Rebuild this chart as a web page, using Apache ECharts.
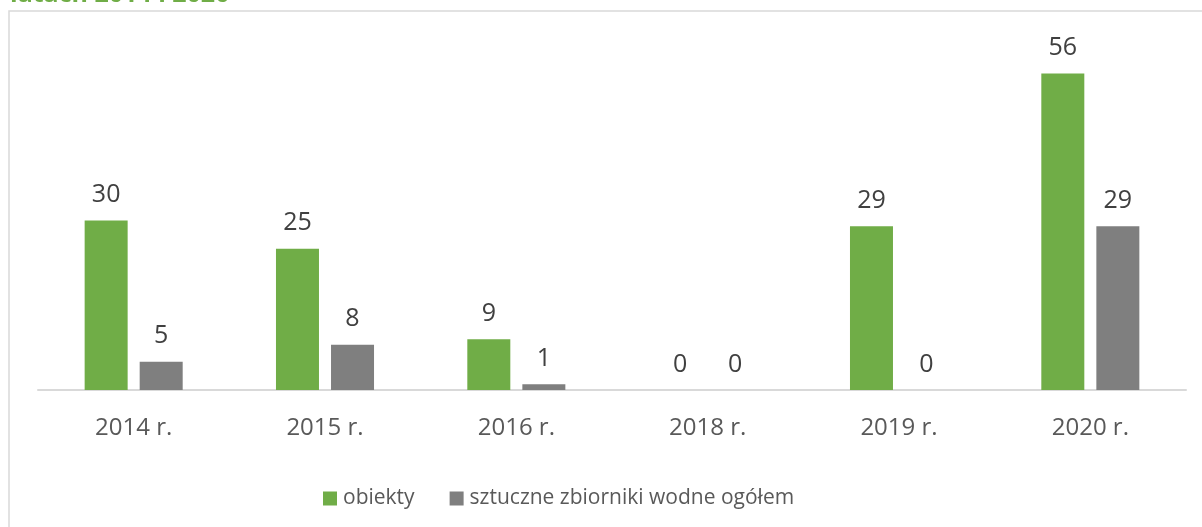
<!DOCTYPE html>
<html>
<head>
<meta charset="utf-8">
<script src="https://cdn.jsdelivr.net/npm/echarts@6/dist/echarts.min.js"></script>
<style>
html, body { margin: 0; padding: 0; background: #fff; }
#chart { width: 1202px; height: 527px; }
</style>
</head>
<body>
<div id="chart"></div>
<script>
// dane
var years = ['2014 r.', '2015 r.', '2016 r.', '2018 r.', '2019 r.', '2020 r.'];
var obiekty = [30, 25, 9, 0, 29, 56];
var zbiorniki = [5, 8, 1, 0, 0, 29];
var seriesNames = ['obiekty', 'sztuczne zbiorniki wodne ogółem'];
var titleText = 'latach 2014 i 2020';

var font = 'Open Sans';

function barLabel() {
	return {
		show : true,
		position : 'top',
		distance : 13,
		color : '#404040',
		fontFamily : font,
		fontSize : 25
	};
}

var chart = echarts.init(document.getElementById('chart'));

var option = {
	animation : false,
	textStyle : { fontFamily : font },
	graphic : [ {
		type : 'rect',
		shape : { x : 9, y : 11, width : 1220, height : 540 },
		style : { fill : 'none', stroke : '#d9d9d9', lineWidth : 1.5 },
		silent : true
	}, {
		type : 'text',
		x : 10,
		y : 7,
		style : {
			text : titleText,
			fill : '#70ad47',
			font : 'bold 25px "Open Sans"',
			verticalAlign : 'bottom'
		},
		silent : true
	} ],
	legend : {
		left : 318,
		top : 483,
		itemWidth : 14,
		itemHeight : 14,
		itemGap : 35,
		icon : 'rect',
		textStyle : {
			color : '#595959',
			fontFamily : font,
			fontSize : 21,
			padding : [0, 0, 0, 1]
		},
		data : seriesNames
	},
	grid : {
		left : 38,
		right : 16,
		top : 51,
		bottom : 137,
		containLabel : false
	},
	xAxis : {
		type : 'category',
		data : years,
		axisTick : { show : false },
		axisLine : { lineStyle : { color : '#d9d9d9', width : 2 } },
		axisLabel : {
			color : '#595959',
			fontFamily : font,
			fontSize : 24,
			margin : 26
		}
	},
	yAxis : {
		type : 'value',
		min : 0,
		max : 60,
		show : false,
		splitLine : { show : false }
	},
	series : [ {
		name : seriesNames[0],
		type : 'bar',
		data : obiekty,
		barWidth : 43,
		barGap : '28%',
		itemStyle : { color : '#70ad47' },
		label : barLabel()
	}, {
		name : seriesNames[1],
		type : 'bar',
		data : zbiorniki,
		barWidth : 43,
		itemStyle : { color : '#7f7f7f' },
		label : barLabel()
	} ]
};

chart.setOption(option);
</script>
</body>
</html>
